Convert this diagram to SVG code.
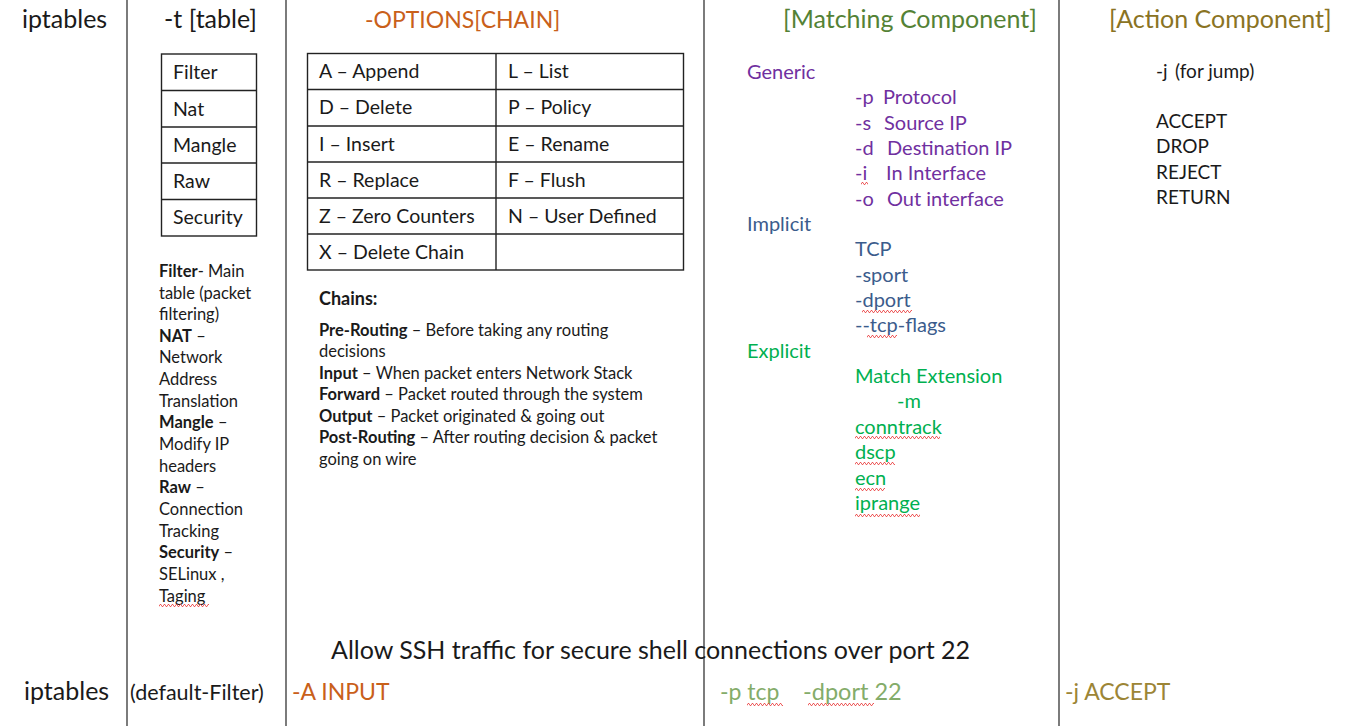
<svg xmlns="http://www.w3.org/2000/svg" width="1350" height="726" viewBox="0 0 1350 726">
<defs>
<pattern id="wave" patternUnits="userSpaceOnUse" width="4" height="3">
<path d="M0,2.5 L1,0.5 L2,0.5 L3,2.5 L4,2.5" fill="none" stroke="#e83a3a" stroke-width="0.8"/>
</pattern>
<style>
text{font-family:Lato,"Liberation Sans",sans-serif;fill:#1a1a1a}
.hd{font-size:25px}
.tb{font-size:19.5px}
.nt{font-size:16.5px}
.ch{font-size:16.5px}
.mc{font-size:20px}
.ac{font-size:19px}
.bt{font-size:25px}
.b{font-weight:bold}
.orange{fill:#C9601A}
.mgreen{fill:#548235}
.agold{fill:#8A7323}
.purple{fill:#7030A0}
.blue{fill:#3B5C8C}
.green{fill:#00B050}
.lgreen{fill:#84AC6A}
.lgold{fill:#9C8536}
.cell{fill:none;stroke:#222;stroke-width:1.4}
.col{stroke:#444;stroke-width:1.4}
</style>
</defs>
<rect width="1350" height="726" fill="#fff"/>

<g id="columns">
<line class="col" x1="127" y1="0" x2="127" y2="726"/>
<line class="col" x1="286" y1="0" x2="286" y2="726"/>
<line class="col" x1="704" y1="0" x2="704" y2="726"/>
<line class="col" x1="1059" y1="0" x2="1059" y2="726"/>
</g>

<g id="headers">
<text class="hd" x="22" y="28">iptables</text>
<text class="hd" x="164" y="28">-t [table]</text>
<text class="hd orange" x="365" y="28" style="font-size:23px">-OPTIONS[CHAIN]</text>
<text class="hd mgreen" x="783" y="28">[Matching Component]</text>
<text class="hd agold" x="1109" y="28">[Action Component]</text>
</g>

<g id="table-list">
<rect class="cell" x="161.5" y="54" width="95" height="182"/>
<line class="cell" x1="161.5" y1="90.5" x2="256.5" y2="90.5"/>
<line class="cell" x1="161.5" y1="127" x2="256.5" y2="127"/>
<line class="cell" x1="161.5" y1="163" x2="256.5" y2="163"/>
<line class="cell" x1="161.5" y1="199.5" x2="256.5" y2="199.5"/>
<text class="tb" x="173" y="79">Filter</text>
<text class="tb" x="173" y="116">Nat</text>
<text class="tb" x="173" y="152">Mangle</text>
<text class="tb" x="173" y="188">Raw</text>
<text class="tb" x="173" y="224">Security</text>
</g>

<g id="table-notes">
<text class="nt" x="159" y="277"><tspan class="b">Filter</tspan>- Main</text>
<text class="nt" x="159" y="298.5">table (packet</text>
<text class="nt" x="159" y="320">filtering)</text>
<text class="nt" x="159" y="341.5"><tspan class="b">NAT</tspan> –</text>
<text class="nt" x="159" y="363">Network</text>
<text class="nt" x="159" y="385">Address</text>
<text class="nt" x="159" y="406.5">Translation</text>
<text class="nt" x="159" y="428"><tspan class="b">Mangle</tspan> –</text>
<text class="nt" x="159" y="450">Modify IP</text>
<text class="nt" x="159" y="471.5">headers</text>
<text class="nt" x="159" y="493"><tspan class="b">Raw</tspan> –</text>
<text class="nt" x="159" y="515">Connection</text>
<text class="nt" x="159" y="536.5">Tracking</text>
<text class="nt" x="159" y="558"><tspan class="b">Security</tspan> –</text>
<text class="nt" x="159" y="580">SELinux ,</text>
<text class="nt" x="159" y="601.5">Taging</text>
</g>

<g id="options-table">
<rect class="cell" x="307.5" y="53.5" width="376" height="216.5"/>
<line class="cell" x1="496" y1="53.5" x2="496" y2="270"/>
<line class="cell" x1="307.5" y1="89.5" x2="683.5" y2="89.5"/>
<line class="cell" x1="307.5" y1="126" x2="683.5" y2="126"/>
<line class="cell" x1="307.5" y1="162" x2="683.5" y2="162"/>
<line class="cell" x1="307.5" y1="198" x2="683.5" y2="198"/>
<line class="cell" x1="307.5" y1="234" x2="683.5" y2="234"/>
<text class="tb" x="319" y="78">A – Append</text>
<text class="tb" x="508" y="78">L – List</text>
<text class="tb" x="319" y="114">D – Delete</text>
<text class="tb" x="508" y="114">P – Policy</text>
<text class="tb" x="319" y="150.5">I – Insert</text>
<text class="tb" x="508" y="150.5">E – Rename</text>
<text class="tb" x="319" y="186.5">R – Replace</text>
<text class="tb" x="508" y="186.5">F – Flush</text>
<text class="tb" x="319" y="222.5">Z – Zero Counters</text>
<text class="tb" x="508" y="222.5">N – User Defined</text>
<text class="tb" x="319" y="258.5">X – Delete Chain</text>
</g>

<g id="chains">
<text class="ch b" x="319" y="305" style="font-size:18px">Chains:</text>
<text class="ch" x="319" y="335.5"><tspan class="b">Pre-Routing</tspan> – Before taking any routing</text>
<text class="ch" x="319" y="357">decisions</text>
<text class="ch" x="319" y="378.5"><tspan class="b">Input</tspan> – When packet enters Network Stack</text>
<text class="ch" x="319" y="400"><tspan class="b">Forward</tspan> – Packet routed through the system</text>
<text class="ch" x="319" y="421.5"><tspan class="b">Output</tspan> – Packet originated &amp; going out</text>
<text class="ch" x="319" y="443"><tspan class="b">Post-Routing</tspan> – After routing decision &amp; packet</text>
<text class="ch" x="319" y="464.5">going on wire</text>
</g>

<g id="matching">
<text class="mc purple" x="747" y="79">Generic</text>
<text class="mc purple" x="855" y="104">-p<tspan x="883">Protocol</tspan></text>
<text class="mc purple" x="855" y="129.5">-s<tspan x="884">Source IP</tspan></text>
<text class="mc purple" x="855" y="155">-d<tspan x="887">Destination IP</tspan></text>
<text class="mc purple" x="855" y="180">-i<tspan x="886">In Interface</tspan></text>
<text class="mc purple" x="855" y="205.5">-o<tspan x="887">Out interface</tspan></text>
<text class="mc blue" x="747" y="231">Implicit</text>
<text class="mc blue" x="855" y="256">TCP</text>
<text class="mc blue" x="855" y="281.5">-sport</text>
<text class="mc blue" x="855" y="307">-dport</text>
<text class="mc blue" x="855" y="332">--tcp-flags</text>
<text class="mc green" x="747" y="357.5">Explicit</text>
<text class="mc green" x="855" y="383">Match Extension</text>
<text class="mc green" x="897" y="408">-m</text>
<text class="mc green" x="855" y="434">conntrack</text>
<text class="mc green" x="855" y="459">dscp</text>
<text class="mc green" x="855" y="485">ecn</text>
<text class="mc green" x="855" y="510">iprange</text>
</g>

<g id="action">
<text class="ac" x="1156" y="78">-j<tspan x="1175">(for jump)</tspan></text>
<text class="ac" x="1156" y="128">ACCEPT</text>
<text class="ac" x="1156" y="153">DROP</text>
<text class="ac" x="1156" y="178.5">REJECT</text>
<text class="ac" x="1156" y="204">RETURN</text>
</g>

<g id="example">
<text class="bt" x="331" y="659">Allow SSH traffic for secure shell connections over port 22</text>
<text class="bt" x="24" y="700">iptables</text>
<text x="130" y="700" style="font-size:21.5px">(default-Filter)</text>
<text class="orange" x="292" y="700" style="font-size:23px">-A INPUT</text>
<text class="lgreen" x="720" y="700" style="font-size:23px">-p tcp<tspan x="803" style="font-size:23.5px">-dport 22</tspan></text>
<text class="lgold" x="1065" y="700" style="font-size:23px">-j ACCEPT</text>
</g>

<g id="spellcheck">
<rect transform="translate(159,604)" width="50" height="3" fill="url(#wave)"/>
<rect transform="translate(861,182)" width="7" height="3" fill="url(#wave)"/>
<rect transform="translate(862,310)" width="50" height="3" fill="url(#wave)"/>
<rect transform="translate(867,335)" width="30" height="3" fill="url(#wave)"/>
<rect transform="translate(855,436)" width="85" height="3" fill="url(#wave)"/>
<rect transform="translate(855,462)" width="40" height="3" fill="url(#wave)"/>
<rect transform="translate(855,488)" width="30" height="3" fill="url(#wave)"/>
<rect transform="translate(855,514)" width="65" height="3" fill="url(#wave)"/>
<rect transform="translate(747,703)" width="36" height="3" fill="url(#wave)"/>
<rect transform="translate(808,703)" width="66" height="3" fill="url(#wave)"/>
</g>
</svg>
